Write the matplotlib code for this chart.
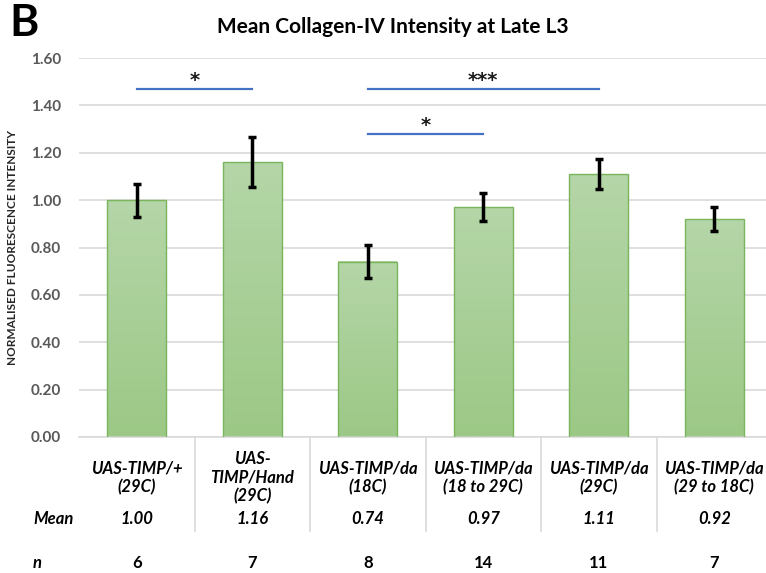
import matplotlib
matplotlib.use('Agg')
import matplotlib.pyplot as plt
import numpy as np
from matplotlib.colors import LinearSegmentedColormap

plt.rcParams['font.family'] = ['Lato', 'DejaVu Sans']

# data
groups = ['UAS-TIMP/+\n(29C)', 'UAS-\nTIMP/Hand\n(29C)', 'UAS-TIMP/da\n(18C)',
          'UAS-TIMP/da\n(18 to 29C)', 'UAS-TIMP/da\n(29C)', 'UAS-TIMP/da\n(29 to 18C)']
means = [1.00, 1.16, 0.74, 0.97, 1.11, 0.92]
errors = [0.07, 0.105, 0.07, 0.06, 0.065, 0.05]
mean_labels = ['1.00', '1.16', '0.74', '0.97', '1.11', '0.92']
n_values = [6, 7, 8, 14, 11, 7]
# significance brackets: (from group, to group, height, stars)
sig = [(0, 1, 1.47, '*'), (2, 4, 1.47, '***'), (2, 3, 1.28, '*')]

fig = plt.figure(figsize=(7.66, 5.73), dpi=100)
ax = fig.add_axes([79/766, 136/573, 693/766, 379/573])

x = np.arange(len(means))
bars = ax.bar(x, means, width=0.51, color='none', edgecolor='#7AB55C', linewidth=1.0, zorder=3)

# vertical gradient fill like the excel bars
cmap = LinearSegmentedColormap.from_list('g', ['#9CC886', '#B5D6A8'])
grad = np.linspace(0, 1, 100).reshape(-1, 1)
for b in bars:
    x0 = b.get_x()
    ax.imshow(grad, extent=[x0, x0 + b.get_width(), 0, b.get_height()], origin='lower',
              aspect='auto', cmap=cmap, zorder=2)

ax.errorbar(x, means, yerr=errors, fmt='none', ecolor='black', elinewidth=2.5,
            capsize=3, capthick=2.5, zorder=4)

ax.set_xlim(-0.5, 5.5)
ax.set_ylim(0, 1.6)
ax.set_yticks(np.arange(0, 1.61, 0.2))
ax.set_yticklabels(['%.2f' % v for v in np.arange(0, 1.61, 0.2)], fontsize=11,
                   fontweight='bold', color='#595959')
ax.yaxis.grid(True, color='#D9D9D9', linewidth=1.2, zorder=0)
ax.set_axisbelow(True)
ax.tick_params(axis='y', length=0, pad=13)
ax.tick_params(axis='x', length=0, labelbottom=False)
for s in ['top', 'right', 'left']:
    ax.spines[s].set_visible(False)
ax.spines['bottom'].set_color('#D9D9D9')
ax.spines['bottom'].set_linewidth(1.2)
ax.set_ylabel('NORMALISED FLUORESCENCE INTENSITY', fontsize=8.5, fontweight='bold',
              color='#262626', labelpad=9)

# significance lines
for a, b, h, stars in sig:
    ax.plot([a, b], [h, h], color='#4472C4', linewidth=1.6, zorder=5, clip_on=False)
    ax.text((a + b) / 2, h + 0.037, stars, ha='center', va='center', fontsize=14,
            fontweight='bold', color='#1a1a1a', zorder=5, family='DejaVu Sans')

# table under the axis
trans = ax.get_xaxis_transform()
for i in range(len(means) - 1):
    ax.plot([i + 0.5, i + 0.5], [0, -94/379], color='#D9D9D9', linewidth=1.2,
            transform=trans, clip_on=False)
for i, g in enumerate(groups):
    ax.text(i, -41/379, g, transform=trans, ha='center', va='center', fontsize=12,
            fontweight='bold', style='italic', color='black', linespacing=1.2)
    ax.text(i, -82/379, mean_labels[i], transform=trans, ha='center', va='center',
            fontsize=12, fontweight='bold', style='italic', color='black')
    ax.text(i, -126/379, str(n_values[i]), transform=trans, ha='center', va='center',
            fontsize=12, fontweight='bold', color='black')
fig.text(33/766, 1 - 519/573, 'Mean', ha='left', va='center', fontsize=12,
         fontweight='bold', style='italic')
fig.text(33/766, 1 - 563/573, 'n', ha='left', va='center', fontsize=12,
         fontweight='bold', style='italic')

fig.text(393/766, 1 - 27/573, 'Mean Collagen-IV Intensity at Late L3', ha='center',
         va='center', fontsize=15, fontweight='bold')
fig.text(9/766, 1 - 23/573, 'B', ha='left', va='center', fontsize=32, fontweight='bold')

fig.savefig('out.png', dpi=100)
